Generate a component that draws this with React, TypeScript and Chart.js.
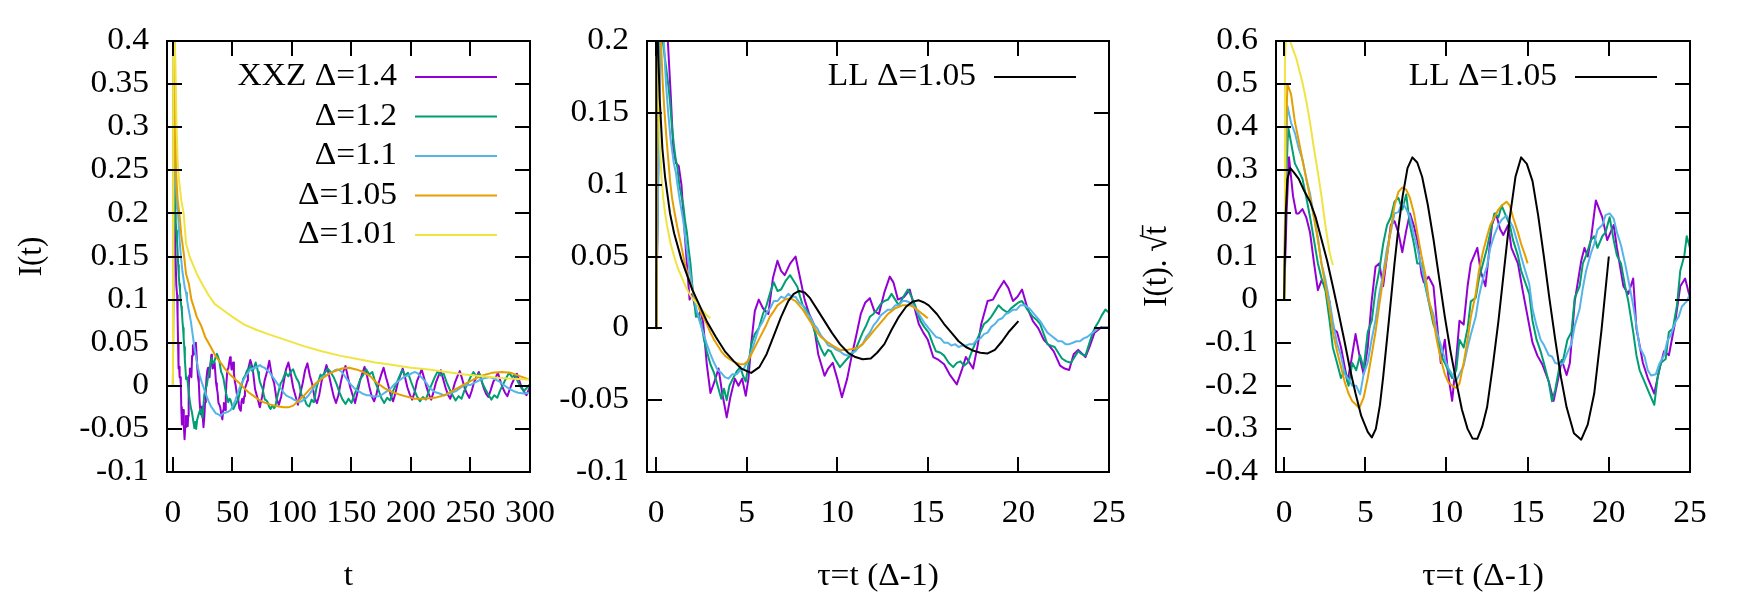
import { useEffect, useRef } from "react";
import { Chart, registerables } from "chart.js";

Chart.register(...registerables);

type Pt = [number, number];

const SERIF = "'Liberation Serif', 'Times New Roman', serif";
const FONT_SIZE = 31;
// glyphs in this figure are set slightly wide: horizontal stretch applied to every label
const TEXT_STRETCH = 1.08;

// ---------- axis ticks ----------
const T_TICKS = [0, 50, 100, 150, 200, 250, 300];
const TAU_TICKS = [0, 5, 10, 15, 20, 25];
const I_TICKS = [-0.1, -0.05, 0, 0.05, 0.1, 0.15, 0.2, 0.25, 0.3, 0.35, 0.4];
const I_TAU_TICKS = [-0.1, -0.05, 0, 0.05, 0.1, 0.15, 0.2];
const ISQRT_TICKS = [-0.4, -0.3, -0.2, -0.1, 0, 0.1, 0.2, 0.3, 0.4, 0.5, 0.6];

// ---------- key labels / colours ----------
const XXZ_LABELS = ["XXZ Δ=1.4", "Δ=1.2", "Δ=1.1", "Δ=1.05", "Δ=1.01"];
const XXZ_COLORS = ["#9400d3", "#009e73", "#56b4e9", "#e69f00", "#f0e442"];
const LL_LABEL = "LL Δ=1.05";
const LL_COLOR = "#000000";

// ---------- I(t) versus t ----------
const T_D140: Pt[] = [
  [0, 0], [0.8, 0.45], [1.6, 0.2], [2.2, 0.15], [2.8, 0.117], [3.5, 0.105], [3.9, 0.08], [4.3, 0.05], [4.7, 0.02],
  [5.2, 0.022], [5.6, 0.01], [6.2, 0.01], [6.6, 0.002], [7.0, -0.025], [7.5, -0.045], [8.0, -0.038], [8.6, -0.028],
  [9.1, -0.045], [9.75, -0.062], [10.3, -0.048], [10.9, -0.035], [11.4, -0.04], [12.0, -0.035], [12.4, -0.047],
  [12.8, -0.035], [13.2, -0.01], [13.6, 0.012], [14.2, 0.02], [14.8, 0.014], [15.5, 0.01], [16.1, 0.035],
  [16.75, 0.047], [17.3, 0.04], [17.8, 0.037], [18.5, 0.045], [19.25, 0.05], [19.9, 0.035], [20.5, 0.02],
  [21.1, 0.01], [21.75, 0.003], [22.4, -0.018], [23.25, -0.033], [23.75, -0.028], [24.4, -0.024], [25.0, -0.035],
  [25.65, -0.048], [26.4, -0.035], [27.0, -0.019], [27.6, -0.005], [28.25, 0.01], [28.9, 0.018], [29.5, 0.021],
  [30.1, 0.012], [30.75, 0.01], [31.5, 0.025], [32.25, 0.036], [32.75, 0.032], [33.4, 0.02], [34.25, 0.022],
  [35.0, 0.027], [35.6, 0.015], [36.25, 0.003], [36.9, -0.003], [37.5, -0.008], [38.25, -0.02], [39.0, -0.022],
  [39.75, -0.025], [40.5, -0.032], [41.5, -0.039], [42.25, -0.028], [42.75, -0.02], [43.75, -0.028], [44.4, -0.012],
  [44.9, 0.003], [45.75, 0.019], [46.5, 0.02], [47.25, 0.027], [48.0, 0.033], [48.6, 0.028], [49.25, 0.019],
  [49.9, 0.022], [50.5, 0.027], [51.25, 0.014], [52.0, 0.005], [52.75, 0.0], [53.5, -0.008], [54.25, -0.012],
  [54.9, -0.016], [55.75, -0.026], [56.4, -0.028], [57.0, -0.029], [57.6, -0.018], [58.25, -0.015], [59.25, -0.02],
  [59.9, -0.012], [60.5, -0.003], [61.5, 0.001], [62.5, 0.006], [63, 0.018], [65, 0.03], [67, 0.02], [69, -0.004],
  [71, -0.014], [73, -0.025], [75, -0.012], [77, 0.006], [79, 0.016], [81, 0.029], [83, 0.012], [85, 0.003],
  [87, -0.015], [89, -0.022], [91, -0.012], [93, 0.004], [95, 0.019], [97, 0.027], [99, 0.014], [101, -0.002],
  [103, -0.012], [105, -0.022], [107, -0.009], [109, 0.003], [111, 0.018], [113, 0.026], [115, 0.012], [117, 0.002],
  [119, -0.014], [121, -0.02], [123, -0.01], [125, 0.006], [127, 0.014], [129, 0.024], [131, 0.013], [133, 0.0],
  [135, -0.012], [137, -0.02], [139, -0.011], [141, 0.004], [143, 0.016], [145, 0.023], [147, 0.01], [149, -0.002],
  [151, -0.011], [153, -0.02], [155, -0.008], [157, 0.005], [159, 0.014], [161, 0.022], [163, 0.012], [165, -0.001],
  [167, -0.012], [169, -0.018], [171, -0.01], [173, 0.004], [175, 0.013], [177, 0.021], [179, 0.01], [181, 0.0],
  [183, -0.011], [185, -0.018], [187, -0.008], [189, 0.004], [191, 0.012], [193, 0.02], [195, 0.01], [197, -0.002],
  [199, -0.01], [201, -0.016], [203, -0.008], [205, 0.005], [207, 0.012], [209, 0.019], [211, 0.009], [213, -0.001],
  [215, -0.01], [217, -0.016], [219, -0.007], [221, 0.004], [223, 0.011], [225, 0.018], [227, 0.008], [229, -0.002],
  [231, -0.01], [233, -0.015], [235, -0.006], [237, 0.004], [239, 0.011], [241, 0.017], [243, 0.008], [245, -0.002],
  [247, -0.009], [249, -0.014], [251, -0.006], [253, 0.004], [255, 0.01], [257, 0.016], [259, 0.007], [261, -0.002],
  [263, -0.009], [265, -0.013], [267, -0.005], [269, 0.004], [271, 0.009], [273, 0.015], [275, 0.006], [277, -0.002],
  [279, -0.008], [281, -0.012], [283, -0.004], [285, 0.003], [287, 0.009], [289, 0.014], [291, 0.006], [293, -0.002],
  [295, -0.007], [297, -0.011], [299, -0.004], [300, 0.0],
];

const T_D120: Pt[] = [
  [0, 0], [0.8, 0.45], [1.85, 0.2], [2.35, 0.19], [2.85, 0.18], [3.35, 0.17], [3.85, 0.158], [4.4, 0.14], [4.9, 0.128],
  [5.4, 0.118], [5.9, 0.112], [6.4, 0.1], [7.0, 0.092], [7.5, 0.086], [8.0, 0.075], [8.5, 0.067], [9.0, 0.055],
  [9.5, 0.045], [10.0, 0.03], [10.5, 0.02], [11.0, 0.008], [11.75, 0.01], [12.5, 0.003], [13.25, -0.008], [14.0, -0.016],
  [15.0, -0.025], [16.0, -0.031], [17.0, -0.04], [18.0, -0.049], [18.75, -0.042], [19.5, -0.05], [20.25, -0.04],
  [21.2, -0.035], [22.25, -0.03], [23.25, -0.027], [24.0, -0.033], [24.75, -0.037], [25.5, -0.025], [26.3, -0.011],
  [27.25, -0.004], [28.35, 0.0], [29.5, 0.01], [30.5, 0.016], [31.5, 0.025], [32.5, 0.032], [33.5, 0.026], [34.5, 0.027],
  [35.75, 0.033], [37.0, 0.037], [38.0, 0.033], [39.0, 0.029], [39.75, 0.022], [40.5, 0.016], [41.5, 0.013],
  [42.5, 0.008], [43.5, 0.0], [44.5, -0.008], [45.5, -0.014], [46.5, -0.019], [47.5, -0.015], [48.25, -0.016],
  [49.5, -0.022], [50.75, -0.027], [51.75, -0.024], [52.8, -0.021], [54.0, -0.018], [55.0, -0.015], [56.0, -0.009],
  [57.0, -0.003], [58.0, 0.002], [59.0, 0.008], [60.0, 0.01], [61.0, 0.013], [62.0, 0.017], [63.0, 0.019], [64.0, 0.02],
  [65.0, 0.024], [66.0, 0.02], [67.0, 0.016], [68.25, 0.022], [69.5, 0.027], [70.5, 0.022], [71.5, 0.016], [72.25, 0.01],
  [73.0, 0.005], [74.0, 0.001], [75.25, -0.003], [76.25, -0.01], [77.25, -0.016], [78.5, -0.017], [79.5, -0.019],
  [80.75, -0.024], [82.0, -0.027], [83.0, -0.024], [84.0, -0.023], [85.0, -0.026], [86.0, -0.024], [87.0, -0.017],
  [88.0, -0.011], [89.25, -0.004], [90.5, 0.003], [91.5, 0.005], [92.5, 0.008], [93.5, 0.012], [94.5, 0.016],
  [95.75, 0.013], [97.0, 0.011], [98.0, 0.014], [99.0, 0.016], [100.0, 0.018], [101.0, 0.019], [102.5, 0.013],
  [104.0, 0.008], [105.0, 0.006], [106.0, 0.003], [107.0, -0.004], [108.0, -0.011], [109.0, -0.012], [110.0, -0.013],
  [111.0, -0.017], [112.0, -0.021], [113.25, -0.023], [114.5, -0.024], [115.5, -0.02], [116.5, -0.016], [117.5, -0.018],
  [118.5, -0.019], [119.5, -0.011], [120.5, -0.003], [121.25, 0.001], [122.0, 0.004], [123.0, 0.009], [124.0, 0.013],
  [125.0, 0.011], [127.5, 0.015], [130, 0.02], [132.5, 0.016], [135, 0.01], [137.5, 0.002], [140, -0.008],
  [142.5, -0.016], [145, -0.021], [147.5, -0.015], [150, -0.02], [152.5, -0.01], [155, -0.002], [157.5, 0.008],
  [160, 0.013], [162.5, 0.019], [165, 0.013], [167.5, 0.016], [170, 0.004], [172.5, -0.004], [175, -0.014],
  [177.5, -0.02], [180, -0.014], [182.5, -0.017], [185, -0.006], [187.5, 0.002], [190, 0.01], [192.5, 0.018],
  [195, 0.012], [197.5, 0.015], [200, 0.005], [202.5, -0.004], [205, -0.012], [207.5, -0.018], [210, -0.013],
  [212.5, -0.016], [215, -0.006], [217.5, 0.002], [220, 0.01], [222.5, 0.017], [225, 0.012], [227.5, 0.014],
  [230, 0.004], [232.5, -0.004], [235, -0.011], [237.5, -0.017], [240, -0.012], [242.5, -0.015], [245, -0.005],
  [247.5, 0.002], [250, 0.01], [252.5, 0.016], [255, 0.011], [257.5, 0.014], [260, 0.003], [262.5, -0.004],
  [265, -0.01], [267.5, -0.016], [270, -0.011], [272.5, -0.014], [275, -0.005], [277.5, 0.002], [280, 0.009],
  [282.5, 0.015], [285, 0.01], [287.5, 0.013], [290, 0.004], [292.5, -0.002], [295, -0.006], [297.5, -0.002],
  [300, 0.002],
];

const T_D110: Pt[] = [
  [0, 0], [0.8, 0.45], [2.4, 0.235], [3.5, 0.205], [4.3, 0.2], [5.5, 0.17], [6.7, 0.15], [8.0, 0.132], [9.8, 0.115],
  [11.0, 0.108], [11.8, 0.1], [13.0, 0.09], [15.0, 0.075], [16.5, 0.06], [18.0, 0.045], [19.5, 0.032], [21.0, 0.021],
  [22.5, 0.012], [24.0, 0.005], [26, -0.003], [28, -0.011], [30, -0.018], [32, -0.024], [34, -0.028], [36, -0.032],
  [38, -0.033], [40, -0.035], [42, -0.032], [44.5, -0.031], [46.5, -0.03], [48.5, -0.028], [50.5, -0.023],
  [52.6, -0.016], [54.5, -0.008], [56.7, 0.0], [59, 0.006], [61, 0.011], [63, 0.015], [65, 0.019], [67, 0.02],
  [69, 0.021], [71, 0.022], [73, 0.024], [75, 0.022], [77, 0.021], [79, 0.018], [81, 0.016], [83, 0.012], [85, 0.008],
  [87, 0.004], [89, 0.0], [91, -0.004], [93, -0.008], [95, -0.011], [97.5, -0.013], [99.5, -0.014], [101.5, -0.016],
  [103.5, -0.017], [105.6, -0.019], [108, -0.018], [110, -0.016], [112, -0.014], [114, -0.011], [116, -0.007],
  [118, -0.003], [120, 0.001], [122, 0.005], [124, 0.008], [126, 0.011], [128, 0.012], [130, 0.013], [132, 0.015],
  [134, 0.016], [136, 0.018], [138, 0.019], [140, 0.018], [142, 0.016], [144, 0.012], [146, 0.008], [148, 0.004],
  [150.5, 0.0], [152.5, -0.003], [154.5, -0.005], [157, -0.007], [159, -0.009], [161, -0.01], [163, -0.011],
  [165, -0.011], [167, -0.012], [169, -0.012], [171, -0.012], [173, -0.012], [175, -0.011], [177, -0.009],
  [179, -0.007], [181, -0.005], [183, -0.003], [185, 0.0], [187, 0.003], [189, 0.005], [191, 0.007], [193, 0.009],
  [195, 0.011], [197, 0.012], [199, 0.013], [201, 0.015], [203.5, 0.016], [206, 0.014], [208, 0.011], [210, 0.008],
  [212, 0.005], [214, 0.001], [216, -0.003], [218, -0.005], [220, -0.007], [222, -0.008], [224, -0.009], [226, -0.01],
  [228, -0.011], [230, -0.01], [232, -0.009], [234, -0.008], [236, -0.007], [238, -0.006], [240, -0.004],
  [242, -0.002], [244, 0.0], [247, 0.001], [250, 0.001], [254, 0.004], [258, 0.007], [262, 0.009], [266, 0.01],
  [270, 0.008], [274, 0.005], [278, 0.001], [282, -0.003], [286, -0.006], [290, -0.008], [295, -0.009], [300, -0.008],
];

const T_D105: Pt[] = [
  [0, 0], [1, 0.45], [2.5, 0.25], [4, 0.215], [5.4, 0.2], [7, 0.175], [9.4, 0.15], [11, 0.13], [13.4, 0.118],
  [15.5, 0.1], [17.6, 0.091], [20, 0.08], [23.6, 0.07], [27, 0.057], [31.8, 0.045], [36, 0.034], [40, 0.027],
  [44, 0.019], [48, 0.013], [52, 0.008], [56, 0.003], [60, -0.003], [64, -0.008], [68, -0.012], [72, -0.016],
  [76, -0.019], [80, -0.021], [85, -0.023], [89, -0.024], [93, -0.025], [97, -0.025], [101, -0.023], [105, -0.018],
  [109, -0.013], [113, -0.007], [117, -0.001], [121, 0.004], [126, 0.009], [130, 0.013], [134, 0.016], [138, 0.018],
  [142, 0.02], [148, 0.021], [154, 0.019], [160, 0.016], [166, 0.011], [170, 0.005], [174, 0.001], [178, -0.003],
  [182, -0.006], [186, -0.008], [190, -0.01], [195, -0.012], [203, -0.015], [211, -0.015], [220, -0.014],
  [228, -0.011], [236, -0.005], [244, 0.001], [252, 0.007], [260, 0.012], [268, 0.015], [276, 0.016], [284, 0.015],
  [292, 0.011], [300, 0.007],
];

const T_D101: Pt[] = [
  [0, 0], [0.3, 0.45], [2, 0.38], [3, 0.3], [4, 0.26], [5, 0.24], [7, 0.215], [9, 0.2], [11, 0.165], [14, 0.15],
  [17, 0.14], [20, 0.13], [25, 0.117], [30, 0.105], [35, 0.095], [40, 0.09], [50, 0.08], [60, 0.071], [70, 0.065],
  [80, 0.06], [95, 0.053], [110, 0.046], [125, 0.04], [140, 0.035], [155, 0.031], [170, 0.027], [185, 0.024],
  [200, 0.021], [215, 0.019], [230, 0.016], [245, 0.013], [260, 0.011], [275, 0.009], [290, 0.008], [300, 0.007],
];

// ---------- I(t) versus tau = t(Δ-1) ----------
const TAU_D140: Pt[] = [
  [0, 0], [0.5, 0.45], [0.65, 0.2], [0.8, 0.165], [0.95, 0.125], [1.1, 0.115], [1.25, 0.113], [1.4, 0.1], [1.55, 0.072],
  [1.7, 0.045], [1.85, 0.02], [2.0, 0.024], [2.15, 0.015], [2.3, 0.008], [2.45, 0.012], [2.6, 0.004], [2.8, -0.025],
  [3.0, -0.045], [3.2, -0.038], [3.45, -0.028], [3.65, -0.045], [3.9, -0.062], [4.1, -0.048], [4.35, -0.035],
  [4.55, -0.04], [4.75, -0.035], [4.95, -0.047], [5.1, -0.035], [5.26, -0.01], [5.45, 0.012], [5.67, 0.02],
  [5.9, 0.014], [6.2, 0.01], [6.45, 0.035], [6.7, 0.047], [6.9, 0.04], [7.1, 0.037], [7.4, 0.045], [7.7, 0.05],
  [7.95, 0.035], [8.2, 0.02], [8.45, 0.01], [8.7, 0.003], [8.95, -0.018], [9.3, -0.033], [9.5, -0.028], [9.75, -0.024],
  [10.0, -0.035], [10.26, -0.048], [10.55, -0.035], [10.8, -0.019], [11.05, -0.005], [11.3, 0.01], [11.55, 0.018],
  [11.8, 0.021], [12.05, 0.012], [12.3, 0.01], [12.6, 0.025], [12.9, 0.036], [13.1, 0.032], [13.35, 0.02],
  [13.7, 0.022], [14.0, 0.027], [14.25, 0.015], [14.5, 0.003], [14.75, -0.003], [15.0, -0.008], [15.3, -0.02],
  [15.6, -0.022], [15.9, -0.025], [16.2, -0.032], [16.6, -0.039], [16.9, -0.028], [17.1, -0.02], [17.5, -0.028],
  [17.75, -0.012], [17.95, 0.003], [18.3, 0.019], [18.6, 0.02], [18.9, 0.027], [19.2, 0.033], [19.45, 0.028],
  [19.7, 0.019], [19.95, 0.022], [20.2, 0.027], [20.5, 0.014], [20.8, 0.005], [21.1, 0.0], [21.4, -0.008],
  [21.7, -0.012], [21.95, -0.016], [22.3, -0.026], [22.55, -0.028], [22.8, -0.029], [23.05, -0.018], [23.3, -0.015],
  [23.7, -0.02], [23.95, -0.012], [24.2, -0.003], [24.6, 0.001], [25.0, 0.0],
];

const TAU_D120: Pt[] = [
  [0, 0], [0.3, 0.3], [0.37, 0.2], [0.47, 0.19], [0.57, 0.18], [0.67, 0.17], [0.77, 0.158], [0.88, 0.14], [0.98, 0.128],
  [1.08, 0.118], [1.18, 0.112], [1.28, 0.1], [1.4, 0.092], [1.5, 0.086], [1.6, 0.075], [1.7, 0.067], [1.8, 0.055],
  [1.9, 0.045], [2.0, 0.03], [2.1, 0.02], [2.2, 0.008], [2.35, 0.01], [2.5, 0.003], [2.65, -0.008], [2.8, -0.016],
  [3.0, -0.025], [3.2, -0.031], [3.4, -0.04], [3.6, -0.049], [3.75, -0.042], [3.9, -0.05], [4.05, -0.04],
  [4.24, -0.035], [4.45, -0.03], [4.65, -0.027], [4.8, -0.033], [4.95, -0.037], [5.1, -0.025], [5.26, -0.011],
  [5.45, -0.004], [5.67, 0.0], [5.9, 0.01], [6.1, 0.016], [6.3, 0.025], [6.5, 0.032], [6.7, 0.026], [6.9, 0.027],
  [7.15, 0.033], [7.4, 0.037], [7.6, 0.033], [7.8, 0.029], [7.95, 0.022], [8.1, 0.016], [8.3, 0.013], [8.5, 0.008],
  [8.7, 0.0], [8.9, -0.008], [9.1, -0.014], [9.3, -0.019], [9.5, -0.015], [9.65, -0.016], [9.9, -0.022],
  [10.15, -0.027], [10.35, -0.024], [10.56, -0.021], [10.8, -0.018], [11.0, -0.015], [11.2, -0.009], [11.4, -0.003],
  [11.6, 0.002], [11.8, 0.008], [12.0, 0.01], [12.2, 0.013], [12.4, 0.017], [12.6, 0.019], [12.8, 0.02], [13.0, 0.024],
  [13.2, 0.02], [13.4, 0.016], [13.65, 0.022], [13.9, 0.027], [14.1, 0.022], [14.3, 0.016], [14.45, 0.01],
  [14.6, 0.005], [14.8, 0.001], [15.05, -0.003], [15.25, -0.01], [15.45, -0.016], [15.7, -0.017], [15.9, -0.019],
  [16.15, -0.024], [16.4, -0.027], [16.6, -0.024], [16.8, -0.023], [17.0, -0.026], [17.2, -0.024], [17.4, -0.017],
  [17.6, -0.011], [17.85, -0.004], [18.1, 0.003], [18.3, 0.005], [18.5, 0.008], [18.7, 0.012], [18.9, 0.016],
  [19.15, 0.013], [19.4, 0.011], [19.6, 0.014], [19.8, 0.016], [20.0, 0.018], [20.2, 0.019], [20.5, 0.013],
  [20.8, 0.008], [21.0, 0.006], [21.2, 0.003], [21.4, -0.004], [21.6, -0.011], [21.8, -0.012], [22.0, -0.013],
  [22.2, -0.017], [22.4, -0.021], [22.65, -0.023], [22.9, -0.024], [23.1, -0.02], [23.3, -0.016], [23.5, -0.018],
  [23.7, -0.019], [23.9, -0.011], [24.1, -0.003], [24.25, 0.001], [24.4, 0.004], [24.6, 0.009], [24.8, 0.013],
  [25.0, 0.011],
];

const TAU_D110: Pt[] = [
  [0, 0], [0.35, 0.3], [0.43, 0.2], [0.55, 0.17], [0.67, 0.15], [0.8, 0.132], [0.98, 0.115], [1.1, 0.108], [1.18, 0.1],
  [1.3, 0.09], [1.5, 0.075], [1.65, 0.06], [1.8, 0.045], [1.95, 0.032], [2.1, 0.021], [2.25, 0.012], [2.4, 0.005],
  [2.6, -0.003], [2.8, -0.011], [3.0, -0.018], [3.2, -0.024], [3.4, -0.029], [3.6, -0.031], [3.8, -0.034], [4.0, -0.035],
  [4.2, -0.032], [4.45, -0.032], [4.65, -0.029], [4.85, -0.028], [5.05, -0.023], [5.26, -0.016], [5.45, -0.009],
  [5.67, 0.0], [5.9, 0.005], [6.1, 0.011], [6.3, 0.014], [6.5, 0.019], [6.7, 0.019], [6.9, 0.022], [7.1, 0.021],
  [7.3, 0.024], [7.5, 0.022], [7.7, 0.022], [7.9, 0.018], [8.1, 0.016], [8.3, 0.011], [8.5, 0.008], [8.7, 0.003],
  [8.9, 0.0], [9.1, -0.005], [9.3, -0.008], [9.5, -0.012], [9.75, -0.013], [9.95, -0.015], [10.15, -0.016],
  [10.35, -0.018], [10.56, -0.019], [10.8, -0.017], [11.0, -0.016], [11.2, -0.013], [11.4, -0.011], [11.6, -0.006],
  [11.8, -0.003], [12.0, 0.002], [12.2, 0.005], [12.4, 0.009], [12.6, 0.011], [12.8, 0.013], [13.0, 0.013],
  [13.2, 0.016], [13.4, 0.016], [13.6, 0.019], [13.8, 0.019], [14.0, 0.018], [14.2, 0.016], [14.4, 0.012],
  [14.6, 0.008], [14.8, 0.004], [15.05, 0.0], [15.25, -0.003], [15.45, -0.006], [15.7, -0.007], [15.9, -0.01],
  [16.1, -0.01], [16.3, -0.012], [16.5, -0.011], [16.7, -0.013], [16.9, -0.012], [17.1, -0.012], [17.3, -0.011],
  [17.5, -0.011], [17.7, -0.008], [17.9, -0.007], [18.1, -0.004], [18.3, -0.003], [18.5, 0.001], [18.7, 0.003],
  [18.9, 0.006], [19.1, 0.007], [19.3, 0.01], [19.5, 0.011], [19.7, 0.013], [19.9, 0.013], [20.1, 0.016],
  [20.35, 0.016], [20.6, 0.014], [20.8, 0.011], [21.0, 0.008], [21.2, 0.005], [21.4, 0.001], [21.6, -0.003],
  [21.8, -0.005], [22.0, -0.007], [22.2, -0.009], [22.4, -0.009], [22.6, -0.011], [22.8, -0.011], [23.0, -0.01],
  [23.2, -0.009], [23.4, -0.009], [23.6, -0.007], [23.8, -0.006], [24.0, -0.004], [24.2, -0.002], [24.4, 0.0],
  [24.7, 0.001], [25.0, 0.001],
];

const TAU_D105: Pt[] = [
  [0, 0], [0.05, 0.45], [0.27, 0.2], [0.37, 0.17], [0.47, 0.15], [0.57, 0.133], [0.67, 0.118], [0.78, 0.102],
  [0.88, 0.091], [1.0, 0.082], [1.18, 0.07], [1.35, 0.06], [1.59, 0.045], [1.8, 0.035], [2.0, 0.027], [2.2, 0.02],
  [2.4, 0.013], [2.6, 0.008], [2.8, 0.003], [3.0, -0.003], [3.2, -0.008], [3.4, -0.012], [3.6, -0.016], [3.8, -0.019],
  [4.0, -0.021], [4.25, -0.023], [4.45, -0.024], [4.65, -0.025], [4.85, -0.025], [5.06, -0.023], [5.26, -0.018],
  [5.46, -0.013], [5.66, -0.008], [5.87, -0.003], [6.07, 0.002], [6.28, 0.008], [6.5, 0.012], [6.7, 0.016],
  [6.9, 0.018], [7.1, 0.02], [7.4, 0.021], [7.7, 0.019], [7.9, 0.016], [8.1, 0.013], [8.3, 0.009], [8.5, 0.005],
  [8.7, 0.001], [8.9, -0.003], [9.1, -0.006], [9.3, -0.008], [9.5, -0.01], [9.75, -0.012], [10.15, -0.015],
  [10.56, -0.015], [11.0, -0.014], [11.2, -0.013], [11.4, -0.011], [11.6, -0.008], [11.8, -0.005], [12.0, -0.002],
  [12.2, 0.001], [12.4, 0.004], [12.6, 0.007], [12.8, 0.01], [13.0, 0.012], [13.2, 0.014], [13.4, 0.015],
  [13.6, 0.016], [13.8, 0.016], [14.0, 0.016], [14.2, 0.015], [14.4, 0.013], [14.6, 0.011], [14.8, 0.009],
  [15.0, 0.007],
];

const TAU_D101: Pt[] = [
  [0, 0], [0.003, 0.45], [0.05, 0.3], [0.1, 0.2], [0.15, 0.16], [0.2, 0.13], [0.3, 0.105], [0.4, 0.09], [0.5, 0.08],
  [0.6, 0.072], [0.8, 0.059], [1.0, 0.05], [1.2, 0.042], [1.4, 0.036], [1.6, 0.03], [1.8, 0.025], [2.0, 0.021],
  [2.2, 0.018], [2.4, 0.015], [2.6, 0.012], [2.8, 0.009], [3.0, 0.007],
];

const TAU_LL: Pt[] = [
  [0, 0], [0.01, 0.25], [0.1, 0.2], [0.2, 0.16], [0.35, 0.125], [0.5, 0.105], [0.77, 0.08], [1.0, 0.066],
  [1.4, 0.048], [2.0, 0.027], [2.4, 0.016], [2.8, 0.005], [3.3, -0.006], [3.8, -0.016], [4.3, -0.023], [4.7, -0.028],
  [5.25, -0.031], [5.7, -0.027], [6.1, -0.018], [6.5, -0.005], [6.9, 0.008], [7.3, 0.019], [7.6, 0.024], [7.9, 0.026],
  [8.2, 0.025], [8.5, 0.021], [8.9, 0.013], [9.3, 0.005], [9.7, -0.003], [10.15, -0.011], [10.6, -0.017], [11.0, -0.02],
  [11.4, -0.0215], [11.85, -0.021], [12.2, -0.017], [12.6, -0.011], [13.0, -0.001], [13.4, 0.008], [13.8, 0.015],
  [14.15, 0.0185], [14.5, 0.0195], [14.8, 0.018], [15.05, 0.016], [15.5, 0.01], [15.9, 0.003], [16.3, -0.003],
  [16.7, -0.009], [17.1, -0.013], [17.5, -0.0155], [17.9, -0.017], [18.3, -0.0175], [18.7, -0.015], [19.1, -0.009],
  [19.5, -0.002], [20, 0.005],
];

// ---------- I(t)·√t versus tau ----------
const SQ_D140: Pt[] = [
  [0, 0], [0.15, 0.2], [0.3, 0.33], [0.55, 0.24], [0.75, 0.2], [0.9, 0.2], [1.13, 0.21], [1.37, 0.19], [1.6, 0.155],
  [1.84, 0.085], [2.08, 0.022], [2.3, 0.044], [2.55, 0.03], [2.8, -0.005], [3.0, -0.067], [3.26, -0.075],
  [3.5, -0.11], [3.7, -0.15], [3.9, -0.19], [4.1, -0.15], [4.4, -0.08], [4.68, -0.138], [4.9, -0.173], [5.15, -0.111],
  [5.39, -0.004], [5.63, 0.076], [5.86, 0.084], [6.1, 0.031], [6.34, 0.102], [6.57, 0.173], [6.8, 0.182],
  [7.04, 0.155], [7.28, 0.11], [7.52, 0.16], [7.75, 0.2], [8.0, 0.17], [8.2, 0.138], [8.46, 0.06], [8.6, 0.04],
  [8.9, 0.053], [9.2, 0.031], [9.4, -0.049], [9.65, -0.147], [9.9, -0.093], [10.1, -0.173], [10.35, -0.235],
  [10.6, -0.138], [10.8, -0.049], [11.06, -0.058], [11.3, 0.031], [11.5, 0.084], [11.9, 0.12], [12.1, 0.067],
  [12.4, 0.031], [12.6, 0.102], [12.8, 0.173], [13.05, 0.2], [13.3, 0.164], [13.5, 0.15], [13.8, 0.173], [14.0, 0.12],
  [14.4, 0.084], [14.7, 0.02], [15.0, -0.04], [15.3, -0.1], [15.6, -0.13], [15.9, -0.15], [16.3, -0.19],
  [16.6, -0.235], [16.9, -0.18], [17.1, -0.14], [17.4, -0.175], [17.6, -0.147], [17.9, -0.004], [18.3, 0.09],
  [18.5, 0.12], [18.7, 0.1], [18.9, 0.14], [19.2, 0.23], [19.6, 0.191], [19.9, 0.138], [20.3, 0.173], [20.5, 0.12],
  [20.9, 0.031], [21.2, 0.013], [21.5, 0.049], [21.7, -0.067], [22.1, -0.147], [22.4, -0.182], [22.8, -0.218],
  [23.1, -0.164], [23.4, -0.12], [23.7, -0.129], [24.1, -0.049], [24.4, 0.031], [24.7, 0.049], [25, 0.004],
];

const SQ_D120: Pt[] = [
  [0, 0], [0.1, 0.25], [0.25, 0.4], [0.4, 0.37], [0.66, 0.316], [0.9, 0.298], [1.13, 0.28], [1.37, 0.236],
  [1.6, 0.191], [1.84, 0.138], [2.08, 0.084], [2.3, 0.05], [2.55, 0.02], [2.8, -0.049], [3.0, -0.111], [3.26, -0.147],
  [3.5, -0.182], [3.73, -0.164], [3.97, -0.2], [4.2, -0.147], [4.44, -0.164], [4.68, -0.129], [4.9, -0.16],
  [5.15, -0.075], [5.4, -0.049], [5.63, 0.022], [5.86, 0.067], [6.1, 0.129], [6.34, 0.173], [6.57, 0.191],
  [6.8, 0.227], [7.04, 0.236], [7.28, 0.209], [7.52, 0.244], [7.75, 0.173], [8.0, 0.129], [8.2, 0.084], [8.46, 0.084],
  [8.7, 0.031], [8.9, -0.004], [9.2, -0.058], [9.4, -0.075], [9.65, -0.129], [9.9, -0.147], [10.1, -0.164],
  [10.35, -0.182], [10.6, -0.164], [10.8, -0.093], [11.06, -0.111], [11.3, -0.067], [11.5, -0.004], [11.8, 0.004],
  [12.0, 0.049], [12.25, 0.084], [12.5, 0.12], [12.7, 0.156], [12.95, 0.2], [13.2, 0.191], [13.4, 0.218],
  [13.7, 0.191], [13.9, 0.173], [14.1, 0.138], [14.4, 0.102], [14.6, 0.067], [14.85, 0.04], [15.1, 0.013],
  [15.3, -0.049], [15.55, -0.093], [15.8, -0.12], [16.0, -0.147], [16.3, -0.191], [16.5, -0.236], [16.7, -0.209],
  [17.0, -0.147], [17.2, -0.138], [17.45, -0.093], [17.7, -0.075], [17.9, 0.004], [18.2, 0.031], [18.4, 0.084],
  [18.6, 0.102], [18.9, 0.138], [19.1, 0.147], [19.3, 0.12], [19.6, 0.147], [19.8, 0.156], [20.05, 0.191],
  [20.3, 0.138], [20.5, 0.102], [20.75, 0.084], [21.0, 0.031], [21.2, -0.004], [21.5, -0.075], [21.7, -0.129],
  [21.9, -0.164], [22.2, -0.191], [22.5, -0.218], [22.8, -0.244], [23.0, -0.182], [23.2, -0.147], [23.5, -0.138],
  [23.7, -0.075], [23.95, -0.067], [24.2, -0.013], [24.4, 0.067], [24.65, 0.102], [24.8, 0.147], [25, 0.12],
];

const SQ_D110: Pt[] = [
  [0, 0], [0.1, 0.3], [0.2, 0.45], [0.43, 0.41], [0.66, 0.387], [0.9, 0.351], [1.13, 0.325], [1.37, 0.28],
  [1.6, 0.245], [1.84, 0.191], [2.08, 0.145], [2.3, 0.084], [2.55, 0.045], [2.8, -0.004], [3.0, -0.05], [3.26, -0.102],
  [3.5, -0.13], [3.73, -0.173], [3.97, -0.185], [4.2, -0.2], [4.44, -0.2], [4.68, -0.22], [4.9, -0.173],
  [5.15, -0.145], [5.39, -0.093], [5.63, -0.048], [5.86, 0.013], [6.1, 0.06], [6.34, 0.12], [6.57, 0.157],
  [6.8, 0.2], [7.04, 0.203], [7.28, 0.227], [7.52, 0.21], [7.75, 0.191], [8.0, 0.148], [8.2, 0.12], [8.46, 0.077],
  [8.7, 0.04], [8.9, -0.004], [9.2, -0.034], [9.4, -0.075], [9.65, -0.105], [9.9, -0.138], [10.1, -0.158],
  [10.35, -0.173], [10.6, -0.188], [10.8, -0.173], [11.06, -0.153], [11.3, -0.111], [11.5, -0.081], [11.8, -0.04],
  [12.0, 0.008], [12.25, 0.049], [12.5, 0.078], [12.7, 0.12], [12.95, 0.15], [13.2, 0.173], [13.4, 0.185],
  [13.7, 0.195], [13.9, 0.182], [14.1, 0.168], [14.4, 0.129], [14.6, 0.1], [14.85, 0.067], [15.1, 0.036],
  [15.3, -0.022], [15.55, -0.061], [15.8, -0.093], [16.0, -0.105], [16.3, -0.129], [16.5, -0.132], [16.7, -0.147],
  [17.0, -0.15], [17.2, -0.147], [17.45, -0.123], [17.7, -0.102], [17.9, -0.061], [18.2, -0.022], [18.4, 0.027],
  [18.6, 0.067], [18.9, 0.108], [19.1, 0.129], [19.3, 0.162], [19.6, 0.173], [19.8, 0.196], [20.05, 0.2],
  [20.3, 0.188], [20.5, 0.156], [20.75, 0.126], [21.0, 0.084], [21.2, 0.046], [21.5, -0.013], [21.7, -0.061],
  [21.9, -0.111], [22.2, -0.132], [22.4, -0.164], [22.6, -0.176], [22.9, -0.173], [23.1, -0.15], [23.4, -0.129],
  [23.6, -0.096], [23.8, -0.084], [24.1, -0.052], [24.3, -0.04], [24.5, -0.016], [24.8, -0.004], [25, 0.013],
];

const SQ_D105: Pt[] = [
  [0, 0], [0.1, 0.35], [0.2, 0.5], [0.3, 0.49], [0.43, 0.476], [0.66, 0.413], [0.9, 0.369], [1.13, 0.324],
  [1.37, 0.28], [1.6, 0.236], [1.84, 0.191], [2.08, 0.138], [2.3, 0.084], [2.55, 0.031], [2.8, -0.022],
  [3.0, -0.075], [3.26, -0.12], [3.5, -0.156], [3.73, -0.191], [3.97, -0.218], [4.2, -0.236], [4.44, -0.244],
  [4.63, -0.252], [4.9, -0.227], [5.15, -0.182], [5.39, -0.129], [5.63, -0.075], [5.86, -0.013], [6.1, 0.049],
  [6.34, 0.102], [6.57, 0.164], [6.8, 0.218], [7.04, 0.25], [7.28, 0.26], [7.52, 0.255], [7.75, 0.236], [8.0, 0.2],
  [8.2, 0.156], [8.46, 0.102], [8.7, 0.058], [8.9, 0.004], [9.2, -0.049], [9.4, -0.093], [9.65, -0.138], [9.9, -0.173],
  [10.1, -0.191], [10.35, -0.2], [10.6, -0.205], [10.8, -0.195], [11.06, -0.147], [11.3, -0.093], [11.5, -0.04],
  [11.8, 0.013], [12.0, 0.067], [12.25, 0.111], [12.5, 0.147], [12.7, 0.173], [12.95, 0.191], [13.2, 0.209],
  [13.4, 0.218], [13.7, 0.227], [13.9, 0.218], [14.1, 0.191], [14.4, 0.156], [14.6, 0.129], [14.85, 0.102],
  [15.0, 0.084],
];

const SQ_D101: Pt[] = [
  [0, 0], [0.05, 0.55], [0.1, 0.6], [0.2, 0.62], [0.37, 0.6], [0.55, 0.58], [0.75, 0.56], [0.95, 0.53], [1.15, 0.5],
  [1.37, 0.46], [1.6, 0.41], [1.84, 0.35], [2.1, 0.29], [2.3, 0.24], [2.55, 0.17], [2.8, 0.11], [3.0, 0.08],
];

const SQ_LL: Pt[] = [
  [0, 0], [0.1, 0.2], [0.2, 0.28], [0.38, 0.305], [0.6, 0.295], [0.9, 0.28], [1.2, 0.255], [1.6, 0.227],
  [1.95, 0.19], [2.3, 0.14], [2.65, 0.09], [3.0, 0.031], [3.35, -0.03], [3.7, -0.093], [4.05, -0.16], [4.4, -0.218],
  [4.75, -0.27], [5.15, -0.307], [5.4, -0.32], [5.65, -0.3], [5.9, -0.245], [6.1, -0.18], [6.45, -0.05],
  [6.8, 0.084], [7.05, 0.17], [7.3, 0.24], [7.6, 0.305], [7.9, 0.33], [8.2, 0.318], [8.5, 0.285], [8.85, 0.22],
  [9.2, 0.14], [9.55, 0.05], [9.9, -0.04], [10.25, -0.12], [10.6, -0.19], [10.95, -0.255], [11.3, -0.3],
  [11.6, -0.322], [11.9, -0.323], [12.2, -0.295], [12.5, -0.25], [12.85, -0.155], [13.2, -0.05], [13.55, 0.07],
  [13.9, 0.19], [14.25, 0.285], [14.6, 0.33], [14.95, 0.315], [15.3, 0.275], [15.65, 0.195], [16.0, 0.1],
  [16.35, 0.0], [16.7, -0.093], [17.05, -0.18], [17.4, -0.25], [17.85, -0.31], [18.3, -0.325], [18.7, -0.29],
  [19.1, -0.218], [19.55, -0.07], [20, 0.1],
];

// ---------- drawing helpers ----------
const TICK_LEN = 15;
const FONT = `${FONT_SIZE}px ${SERIF}`;

function wideText(ctx: CanvasRenderingContext2D, text: string, x: number, y: number, align: CanvasTextAlign) {
  ctx.save();
  ctx.translate(x, y);
  ctx.scale(TEXT_STRETCH, 1);
  ctx.textAlign = align;
  ctx.textBaseline = "middle";
  ctx.fillText(text, 0, 0);
  ctx.restore();
}

const framePlugin = {
  id: "gnuFrame",
  afterDraw(chart: any, _args: any, opts: any) {
    const { ctx, chartArea: a, scales } = chart;
    const xs = scales.x;
    const ys = scales.y;
    ctx.save();

    // inward tick marks on all four sides, then the border
    ctx.strokeStyle = "#000";
    ctx.lineWidth = 2;
    ctx.beginPath();
    for (const t of xs.ticks) {
      const px = Math.round(xs.getPixelForValue(t.value));
      ctx.moveTo(px, a.bottom);
      ctx.lineTo(px, a.bottom - TICK_LEN);
      ctx.moveTo(px, a.top);
      ctx.lineTo(px, a.top + TICK_LEN);
    }
    for (const t of ys.ticks) {
      const py = Math.round(ys.getPixelForValue(t.value));
      ctx.moveTo(a.left, py);
      ctx.lineTo(a.left + TICK_LEN, py);
      ctx.moveTo(a.right, py);
      ctx.lineTo(a.right - TICK_LEN, py);
    }
    ctx.stroke();
    ctx.strokeRect(a.left, a.top, a.right - a.left, a.bottom - a.top);

    // tick labels
    ctx.font = FONT;
    ctx.fillStyle = "#000";
    for (const t of xs.ticks) {
      wideText(ctx, String(t.value), xs.getPixelForValue(t.value), a.bottom + 42, "center");
    }
    for (const t of ys.ticks) {
      wideText(ctx, String(t.value), a.left - 18, ys.getPixelForValue(t.value), "right");
    }

    // key: text right-aligned, sample line to its right
    const keyIdx: number[] = opts.keyIndices || [];
    keyIdx.forEach((di, row) => {
      const ds = chart.data.datasets[di];
      const y = a.top + 36 + row * 39.5;
      ctx.fillStyle = "#000";
      wideText(ctx, ds.label, a.right - 133, y, "right");
      ctx.strokeStyle = ds.borderColor;
      ctx.lineWidth = 2;
      ctx.beginPath();
      ctx.moveTo(a.right - 115, y);
      ctx.lineTo(a.right - 33, y);
      ctx.stroke();
    });

    // axis titles
    ctx.fillStyle = "#000";
    wideText(ctx, opts.xTitle, (a.left + a.right) / 2, 577, "center");
    if (opts.yTitle) {
      ctx.save();
      ctx.translate(a.left - opts.yTitleGap, (a.top + a.bottom) / 2 + (opts.yTitleShift || 0));
      ctx.rotate(-Math.PI / 2);
      ctx.scale(1, TEXT_STRETCH);
      ctx.textAlign = "center";
      ctx.textBaseline = "middle";
      ctx.fillText(opts.yTitle, 0, 0);
      if (opts.overlineTail) {
        const full = ctx.measureText(opts.yTitle).width;
        const tail = ctx.measureText(opts.overlineTail).width;
        ctx.strokeStyle = "#000";
        ctx.lineWidth = 1.4;
        ctx.beginPath();
        ctx.moveTo(full / 2 - tail - 1, -FONT_SIZE * 0.43);
        ctx.lineTo(full / 2 + 1, -FONT_SIZE * 0.43);
        ctx.stroke();
      }
      ctx.restore();
    }
    ctx.restore();
  },
};

function lineSet(label: string, pts: Pt[], color: string, order: number) {
  return {
    label,
    data: pts.map(([x, y]) => ({ x, y })),
    borderColor: color,
    backgroundColor: color,
    borderWidth: 2,
    pointRadius: 0,
    tension: 0,
    fill: false,
    order,
    clip: 0,
    borderJoinStyle: "round" as const,
  };
}

interface PanelProps {
  canvasLeft: number;
  axisWidth: number;
  plotWidth: number;
  xMin: number;
  xMax: number;
  xTicks: number[];
  yMin: number;
  yMax: number;
  yTicks: number[];
  datasets: any[];
  keyIndices: number[];
  xTitle: string;
  yTitle: string;
  yTitleGap: number;
  yTitleShift?: number;
  overlineTail?: string;
}

const PAD_TOP = 41;
const PAD_RIGHT = 40;
const X_AXIS_HEIGHT = 128;

function Panel(p: PanelProps) {
  const ref = useRef<HTMLCanvasElement>(null);
  const width = p.axisWidth + p.plotWidth + PAD_RIGHT;
  useEffect(() => {
    const chart = new Chart(ref.current!, {
      type: "line",
      data: { datasets: p.datasets },
      options: {
        animation: false,
        responsive: false,
        devicePixelRatio: 1,
        layout: { padding: { top: PAD_TOP, right: PAD_RIGHT, left: 0, bottom: 0 } },
        plugins: {
          legend: { display: false },
          tooltip: { enabled: false },
          gnuFrame: {
            keyIndices: p.keyIndices,
            xTitle: p.xTitle,
            yTitle: p.yTitle,
            yTitleGap: p.yTitleGap,
            yTitleShift: p.yTitleShift,
            overlineTail: p.overlineTail,
          },
        } as any,
        scales: {
          x: {
            type: "linear",
            min: p.xMin,
            max: p.xMax,
            grid: { display: false, drawTicks: false },
            border: { display: false },
            afterBuildTicks: (axis: any) => {
              axis.ticks = p.xTicks.map((v) => ({ value: v }));
            },
            afterFit: (axis: any) => {
              axis.height = X_AXIS_HEIGHT;
            },
            ticks: { display: false },
          },
          y: {
            type: "linear",
            min: p.yMin,
            max: p.yMax,
            grid: { display: false, drawTicks: false },
            border: { display: false },
            afterBuildTicks: (axis: any) => {
              axis.ticks = p.yTicks.map((v) => ({ value: v }));
            },
            afterFit: (axis: any) => {
              axis.width = p.axisWidth;
            },
            ticks: { display: false },
          },
        },
      },
      plugins: [framePlugin],
    });
    return () => chart.destroy();
  }, []);
  return (
    <canvas
      ref={ref}
      width={width}
      height={600}
      style={{ position: "absolute", left: p.canvasLeft, top: 0, width, height: 600 }}
    />
  );
}

function xxzSets(series: Pt[][]) {
  return series.map((s, i) => lineSet(XXZ_LABELS[i], s, XXZ_COLORS[i], 5 - i));
}

export default function App() {
  const panel1 = xxzSets([T_D140, T_D120, T_D110, T_D105, T_D101]);
  const panel2 = [...xxzSets([TAU_D140, TAU_D120, TAU_D110, TAU_D105, TAU_D101]), lineSet(LL_LABEL, TAU_LL, LL_COLOR, 0)];
  const panel3 = [...xxzSets([SQ_D140, SQ_D120, SQ_D110, SQ_D105, SQ_D101]), lineSet(LL_LABEL, SQ_LL, LL_COLOR, 0)];
  return (
    <div style={{ position: "fixed", left: 0, top: 0, width: 1740, height: 600, background: "#fff", overflow: "hidden" }}>
      <Panel
        canvasLeft={0}
        axisWidth={167}
        plotWidth={363}
        xMin={-5}
        xMax={300}
        xTicks={T_TICKS}
        yMin={-0.1}
        yMax={0.4}
        yTicks={I_TICKS}
        datasets={panel1}
        keyIndices={[0, 1, 2, 3, 4]}
        xTitle="t"
        yTitle="I(t)"
        yTitleGap={135}
      />
      <Panel
        canvasLeft={497}
        axisWidth={150}
        plotWidth={462}
        xMin={-0.5}
        xMax={25}
        xTicks={TAU_TICKS}
        yMin={-0.1}
        yMax={0.2}
        yTicks={I_TAU_TICKS}
        datasets={panel2}
        keyIndices={[5]}
        xTitle="τ=t (Δ-1)"
        yTitle=""
        yTitleGap={0}
      />
      <Panel
        canvasLeft={1126}
        axisWidth={150}
        plotWidth={414}
        xMin={-0.5}
        xMax={25}
        xTicks={TAU_TICKS}
        yMin={-0.4}
        yMax={0.6}
        yTicks={ISQRT_TICKS}
        datasets={panel3}
        keyIndices={[5]}
        xTitle="τ=t (Δ-1)"
        yTitle="I(t). √t"
        yTitleGap={119}
        yTitleShift={10}
        overlineTail="t"
      />
    </div>
  );
}
